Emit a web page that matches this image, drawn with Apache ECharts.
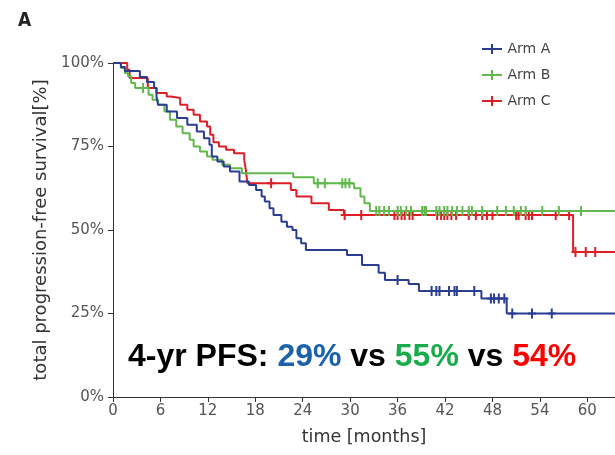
<!DOCTYPE html>
<html>
<head>
<meta charset="utf-8">
<script src="https://cdn.jsdelivr.net/npm/echarts@6/dist/echarts.min.js"></script>
<style>
  html, body { margin: 0; padding: 0; background: #fff; }
  #chart { width: 615px; height: 455px; }
</style>
</head>
<body>
<div id="chart"></div>
<script>
// x axis ticks (months)
var monthTicks = [0, 6, 12, 18, 24, 30, 36, 42, 48, 54, 60];
var monthMax = 63.5;

// Arm A - step curve: time of drop, survival after drop (%)
var armA_t = [0, 1.0, 1.5, 3.4, 4.3, 5.2, 5.5, 5.7, 6.8, 8.1, 9.4, 10.6, 11.5, 12.2, 12.5, 13.2, 14.0, 14.8, 16.0, 17.2, 18.1, 18.8, 19.2, 19.8, 20.3, 21.3, 22.0, 22.7, 23.2, 23.8, 24.4, 29.6, 31.5, 33.6, 34.4, 37.4, 38.7, 46.6, 49.8, 63.5];
var armA_s = [100, 98.8, 97.6, 95.8, 94.3, 92.5, 90, 87.5, 85.5, 83.5, 81.5, 79.5, 77.5, 75.5, 72, 70.5, 69, 67.5, 64.5, 63.5, 62, 60, 58.5, 56.5, 54.5, 52.5, 51, 50, 47.5, 46, 44, 42.5, 39.5, 37.2, 35, 33.8, 31.7, 29.5, 25, 25];
var armA_cens = [36.0, 40.3, 40.9, 41.3, 42.5, 43.2, 43.5, 45.7, 47.8, 48.2, 48.8, 49.5, 50.5, 53.0, 55.5];

// Arm B
var armB_t = [0, 1.0, 1.5, 1.9, 2.3, 2.8, 4.5, 5.0, 5.7, 6.5, 7.2, 8.0, 8.8, 9.7, 10.2, 11.0, 11.9, 12.6, 13.8, 14.8, 16.3, 22.8, 25.4, 30.5, 31.3, 31.8, 32.5, 63.5];
var armB_s = [100, 98.5, 97, 96, 94, 92.5, 90.5, 89, 87.5, 85.5, 83, 81, 79, 77, 75, 73.5, 72, 71, 69.5, 68.5, 67, 65.8, 64, 62.5, 60, 58, 55.7, 55.7];
var armB_cens = [3.8, 25.9, 26.8, 29.0, 29.4, 29.9, 33.3, 33.7, 34.3, 34.9, 36.0, 36.4, 37.1, 37.7, 39.1, 39.4, 39.6, 40.9, 41.3, 41.9, 42.3, 42.9, 43.5, 44.2, 45.0, 45.4, 46.7, 48.6, 49.7, 50.7, 51.6, 52.2, 54.3, 56.4, 59.2];

// Arm C
var armC_t = [0, 1.8, 2.1, 4.4, 5.5, 6.8, 7.3, 8.5, 9.4, 10.2, 11.0, 11.9, 12.3, 12.7, 13.4, 14.3, 15.3, 16.6, 16.8, 17.0, 22.5, 23.2, 25.1, 27.3, 29.2, 58.2, 63.5];
var armC_s = [100, 98, 95.5, 92.5, 91, 90, 89.5, 87.5, 86, 84.5, 82.5, 81, 78.5, 76.3, 75, 74, 73, 71, 68, 64, 62, 60, 58, 56, 54.5, 43.4, 43.4];
var armC_cens = [20.0, 29.3, 31.4, 35.6, 36.0, 36.5, 36.9, 37.5, 37.9, 41.0, 41.5, 41.9, 42.3, 42.8, 43.4, 45.0, 45.9, 46.7, 47.3, 48.0, 51.0, 51.3, 52.2, 52.6, 53.0, 56.0, 57.7, 58.5, 59.8, 61.0];

var armNames = ['Arm A', 'Arm B', 'Arm C'];
var armColors = ['#2b3d93', '#62b84c', '#dc1f26'];

// 4-yr PFS text
var pfsValues = ['29%', '55%', '54%'];
var pfsColors = ['#1a62ab', '#1aab4b', '#ff0000'];

function toPairs(ts, ss) {
  var out = [];
  for (var i = 0; i < ts.length; i++) out.push([ts[i], ss[i]]);
  return out;
}
// survival at time t on the step curve
function survAt(ts, ss, t) {
  var v = ss[0];
  for (var i = 0; i < ts.length; i++) {
    if (ts[i] <= t) v = ss[i];
  }
  return v;
}
function censPairs(ts, ss, cens) {
  return cens.map(function (c) { return [c, survAt(ts, ss, c)]; });
}

var plusIcon = 'path://M0,4h9v-4h2v4h9v2h-9v4h-2v-4h-9z';
var tickMark = 'path://M0,4h3v-4h2v4h3v2h-3v4h-2v-4h-3z';

var curves = [
  [armA_t, armA_s, armA_cens],
  [armB_t, armB_s, armB_cens],
  [armC_t, armC_s, armC_cens]
];

var series = [];
curves.forEach(function (c, i) {
  series.push({
    name: armNames[i],
    type: 'line',
    step: 'end',
    symbol: 'none',
    data: toPairs(c[0], c[1]),
    lineStyle: { color: armColors[i], width: 2 },
    itemStyle: { color: armColors[i] },
    z: 3 - i
  });
});
curves.forEach(function (c, i) {
  series.push({
    name: armNames[i],
    type: 'scatter',
    symbol: tickMark,
    symbolSize: [8, 10],
    data: censPairs(c[0], c[1], c[2]),
    itemStyle: { color: armColors[i], opacity: 1 },
    z: 3 - i
  });
});

var chart = echarts.init(document.getElementById('chart'), null, { renderer: 'canvas' });
chart.setOption({
  animation: false,
  backgroundColor: '#fff',
  grid: { left: 113, right: 0, top: 63, bottom: 58 },
  legend: {
    orient: 'vertical',
    left: 477,
    top: 37,
    itemWidth: 21,
    itemHeight: 10,
    itemGap: 12,
    textStyle: { fontFamily: 'DejaVu Sans', fontSize: 14, color: '#444' },
    data: armNames.map(function (n) { return { name: n, icon: plusIcon }; })
  },
  xAxis: {
    type: 'value',
    min: 0,
    max: monthMax,
    interval: 6,
    name: 'time [months]',
    nameLocation: 'middle',
    nameGap: 31,
    nameTextStyle: { fontFamily: 'DejaVu Sans', fontSize: 17.5, color: '#333' },
    axisLine: { lineStyle: { color: '#333', width: 1 } },
    axisTick: { length: 5, lineStyle: { color: '#333' } },
    axisLabel: {
      fontFamily: 'DejaVu Sans', fontSize: 15, color: '#555', margin: 7,
      showMaxLabel: false,
      formatter: function (v) { return monthTicks.indexOf(v) >= 0 ? v : ''; }
    },
    splitLine: { show: false }
  },
  yAxis: {
    type: 'value',
    min: 0,
    max: 100,
    interval: 25,
    name: 'total progression-free survival[%]',
    nameLocation: 'middle',
    nameGap: 30,
    nameTextStyle: { fontFamily: 'DejaVu Sans', fontSize: 18, color: '#333' },
    axisLine: { show: true, lineStyle: { color: '#333', width: 1 } },
    axisTick: { show: true, length: 5, lineStyle: { color: '#333' } },
    axisLabel: { fontFamily: 'DejaVu Sans', fontSize: 15, color: '#555', margin: 9, formatter: '{value}%' },
    splitLine: { show: false }
  },
  graphic: [
    {
      type: 'text', left: 18, top: 12,
      style: { text: 'A', font: 'bold 19px "Liberation Sans Narrow", "DejaVu Sans Condensed"', fill: '#222' }
    },
    {
      type: 'text', left: 128, top: 341, z: 10,
      style: {
        text: '{k|4-yr PFS: }{a|' + pfsValues[0] + '}{k| vs }{b|' + pfsValues[1] + '}{k| vs }{c|' + pfsValues[2] + '}',
        rich: {
          k: { fontFamily: 'Liberation Sans', fontWeight: 'bold', fontSize: 32, fill: '#000', color: '#000' },
          a: { fontFamily: 'Liberation Sans', fontWeight: 'bold', fontSize: 32, fill: pfsColors[0], color: pfsColors[0] },
          b: { fontFamily: 'Liberation Sans', fontWeight: 'bold', fontSize: 32, fill: pfsColors[1], color: pfsColors[1] },
          c: { fontFamily: 'Liberation Sans', fontWeight: 'bold', fontSize: 32, fill: pfsColors[2], color: pfsColors[2] }
        }
      }
    }
  ],
  series: series
});
</script>
</body>
</html>
